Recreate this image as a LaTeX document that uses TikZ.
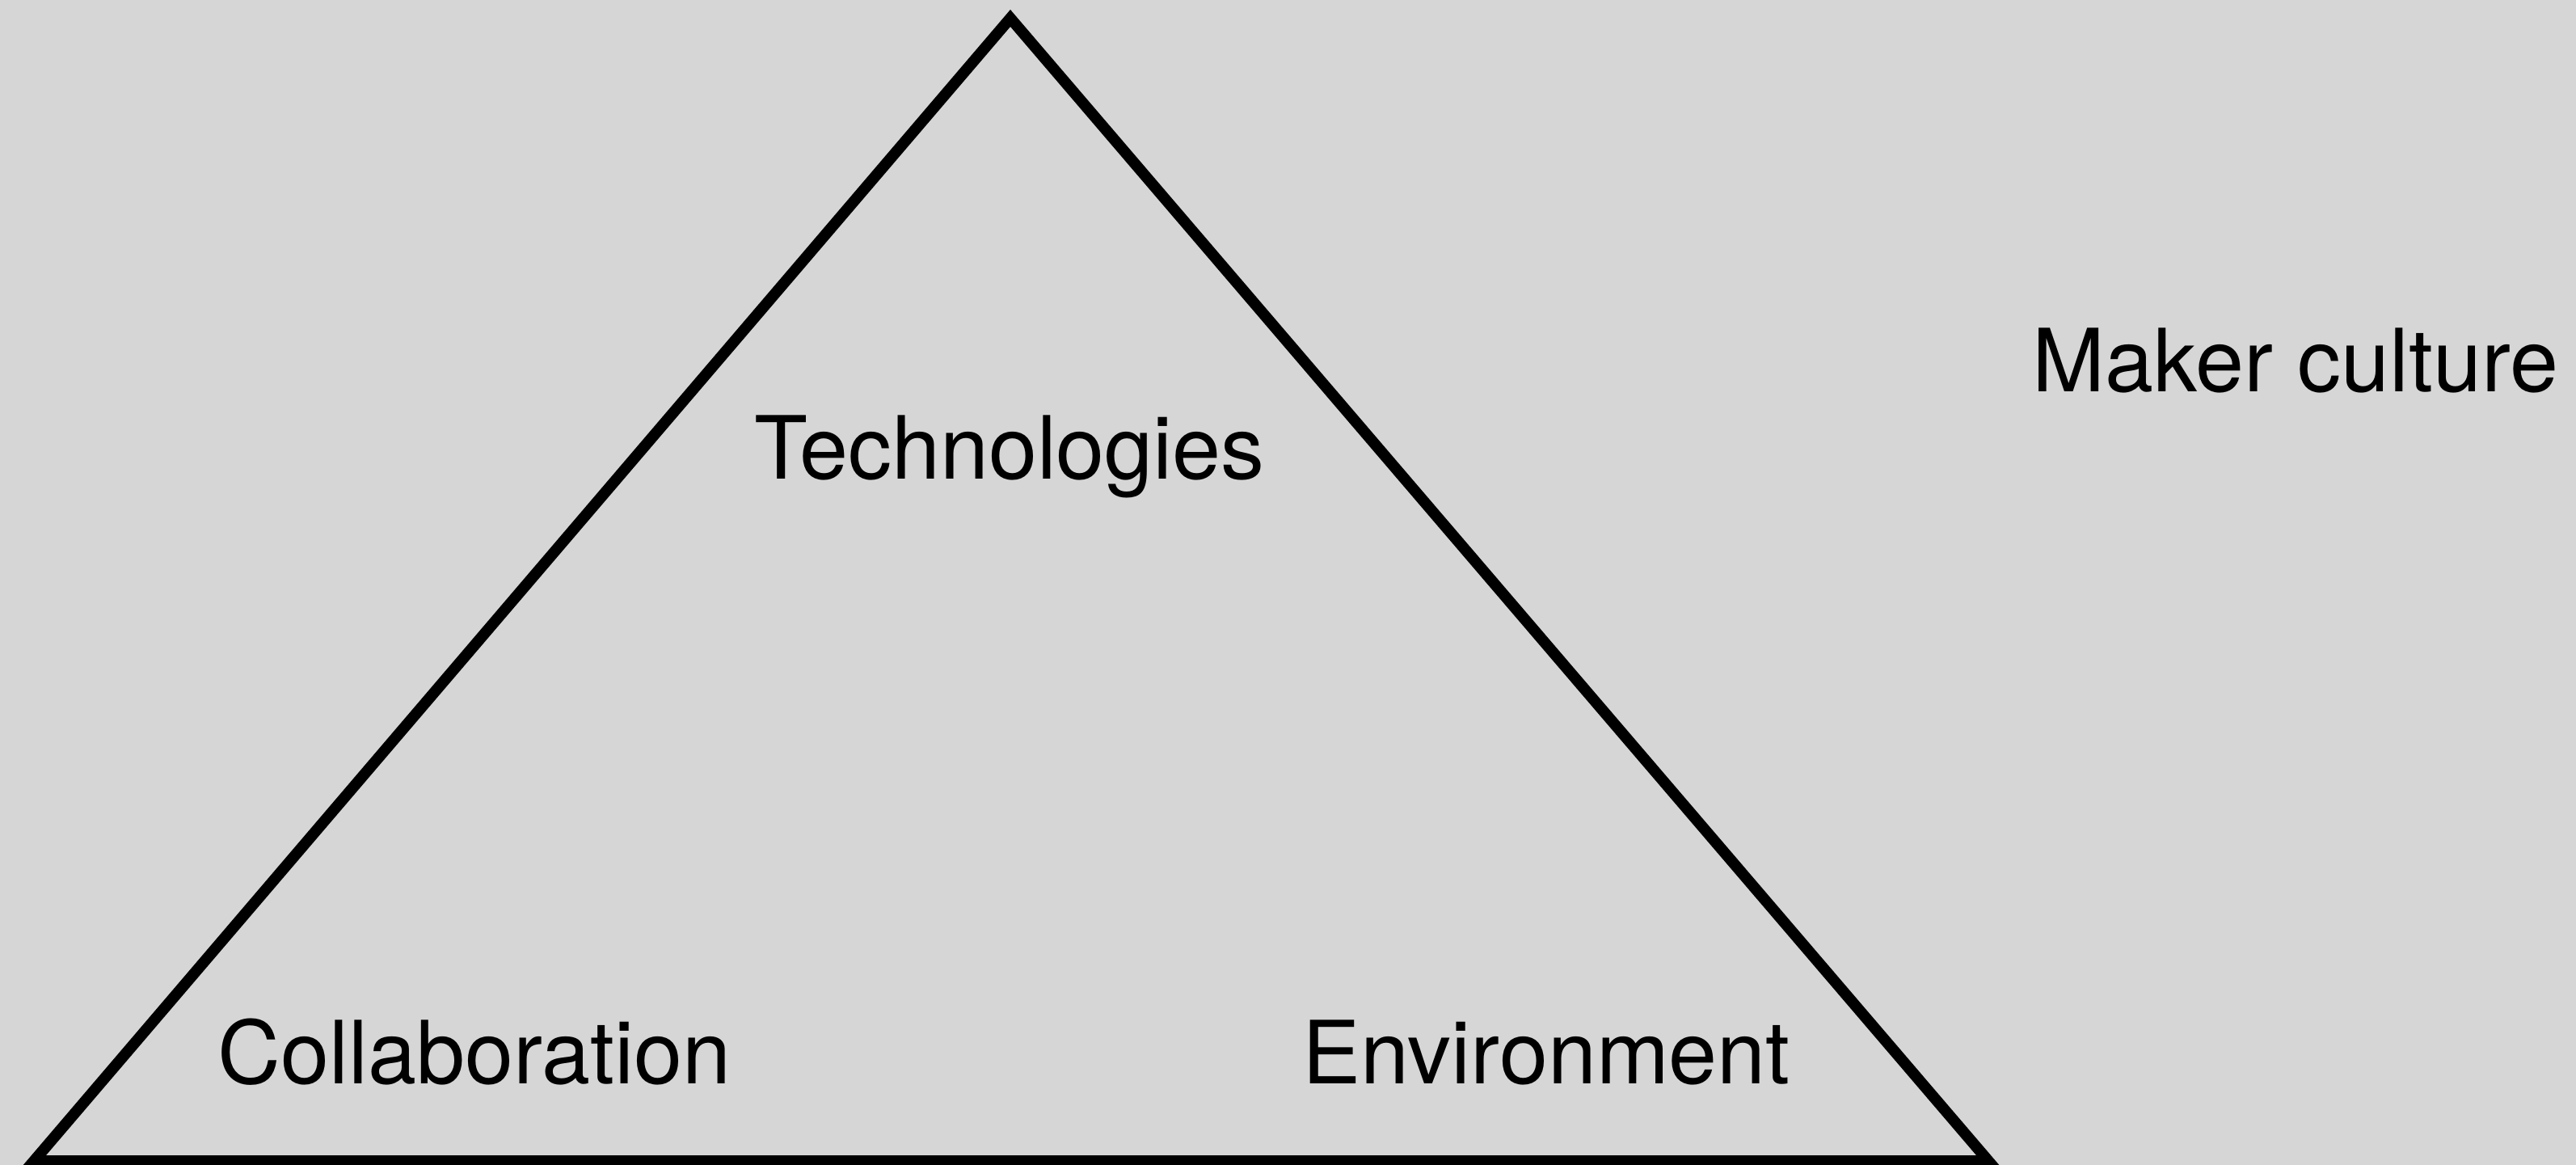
\documentclass[tikz,border=0pt]{standalone}
\usepackage{fontspec}
\setmainfont{TeX Gyre Heros}
\usetikzlibrary{calc}
\definecolor{bggray}{RGB}{214,214,214}
\tikzstyle{side} = [draw,line width=3.9pt,line join=miter]
\tikzstyle{label} = [font=\fontsize{30.7}{36}\selectfont,inner sep=0pt,anchor=base]

\begin{document}
\begin{tikzpicture}[scale=1.]
    \useasboundingbox[fill=bggray] (0,0) rectangle (31.87,14.41);

    % corners of the triangle
    \coordinate (top) at (12.50,14.185);
    \coordinate (left) at (0.42,0.05);
    \coordinate (right) at (24.60,0.05);
    \path[side] (top) -- (left) -- (right) -- cycle;

    \foreach \pos/ \name/ \text in {{(12.49,8.48)/tech/Technologies},{(5.87,1.00)/collab/Collaboration},{(19.13,1.00)/env/Environment}}
        \node[label] (\name) at \pos {\text};

 \node[label] (maker) at (28.40,9.56) {Maker culture};

      \end{tikzpicture}
\end{document}
